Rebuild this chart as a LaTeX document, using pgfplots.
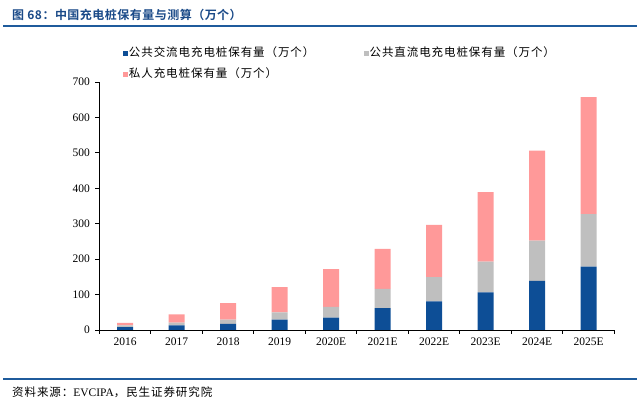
\documentclass[border=0pt]{standalone}
\usepackage{fontspec}
\setmainfont{Liberation Serif}
\newfontfamily\cjk[LetterSpace=8]{Noto Sans CJK SC}
\newfontfamily\cjkt[LetterSpace=4]{Noto Sans CJK SC Bold}
\usepackage{pgfplots}
\pgfplotsset{compat=1.18}
\definecolor{barblue}{HTML}{0D4E96}
\definecolor{bargray}{HTML}{BFBFBF}
\definecolor{barpink}{HTML}{FF9999}
\definecolor{titleblue}{HTML}{1A4A88}
\definecolor{lineblue}{HTML}{1F5B9C}
\begin{document}
\begin{tikzpicture}
\path[use as bounding box] (0,0) rectangle (640bp,410bp);
\node[anchor=west,inner sep=0pt,text=titleblue,font=\fontsize{12bp}{14bp}\selectfont] at (12bp,395bp) {\cjkt 图 68：中国充电桩保有量与测算（万个）};
\draw[lineblue,line width=1.6bp] (3bp,384bp) -- (637bp,384bp);
\draw[lineblue,line width=1.4bp] (3bp,31bp) -- (637bp,31bp);
\node[anchor=west,inner sep=0pt,font=\fontsize{11.5bp}{13bp}\selectfont] at (12bp,18bp) {{\cjk 资料来源：}EVCIPA{\cjk ，民生证券研究院}};
\begin{axis}[
  at={(99.3bp,80bp)}, anchor=south west,
  scale only axis, width=515bp, height=248bp,
  ybar stacked, bar width=16bp,
  xmin=-0.5, xmax=9.5, ymin=0, ymax=700,
  ytick={0,100,...,700},
  xtick={-0.5,0.5,...,9.5},
  x tick label as interval,
  xticklabels={2016,2017,2018,2019,2020E,2021E,2022E,2023E,2024E,2025E},
  axis x line*=bottom, axis y line*=left,
  axis line style={black,line width=0.8bp},
  tick align=outside, major tick length=4bp,
  tick style={black,line width=0.8bp},
  /pgf/number format/assume math mode=true,
  tick label style={font=\fontsize{11.5bp}{13bp}\selectfont},
  yticklabel style={xshift=-2bp},
  legend style={at={(axis description cs:0.046,1.14)}, anchor=north west, draw=none, fill=none,
    inner sep=0pt, legend columns=2, font=\fontsize{11.5bp}{12bp}\selectfont,
    nodes={inner sep=0.8bp, text height=8bp, text depth=2bp},
    /tikz/row sep=10bp},
  legend image code/.code={\fill[#1,draw=none] (0bp,-2.5bp) rectangle (5bp,2.5bp);},
]
\addplot[fill=barblue,draw=none] coordinates {(0,8) (1,13) (2,17) (3,29) (4,35) (5,62) (6,81) (7,106) (8,139) (9,179)};
\addplot[fill=bargray,draw=none] coordinates {(0,5) (1,8) (2,12) (3,21) (4,30) (5,54) (6,68) (7,87) (8,113) (9,148)};
\addplot[fill=barpink,draw=none] coordinates {(0,7) (1,23) (2,47) (3,71) (4,107) (5,113) (6,148) (7,196) (8,254) (9,330)};
\legend{\makebox[234bp][l]{\cjk 公共交流电充电桩保有量（万个）},{\cjk 公共直流电充电桩保有量（万个）},\makebox[234bp][l]{\cjk 私人充电桩保有量（万个）}}
\end{axis}
\end{tikzpicture}
\end{document}
